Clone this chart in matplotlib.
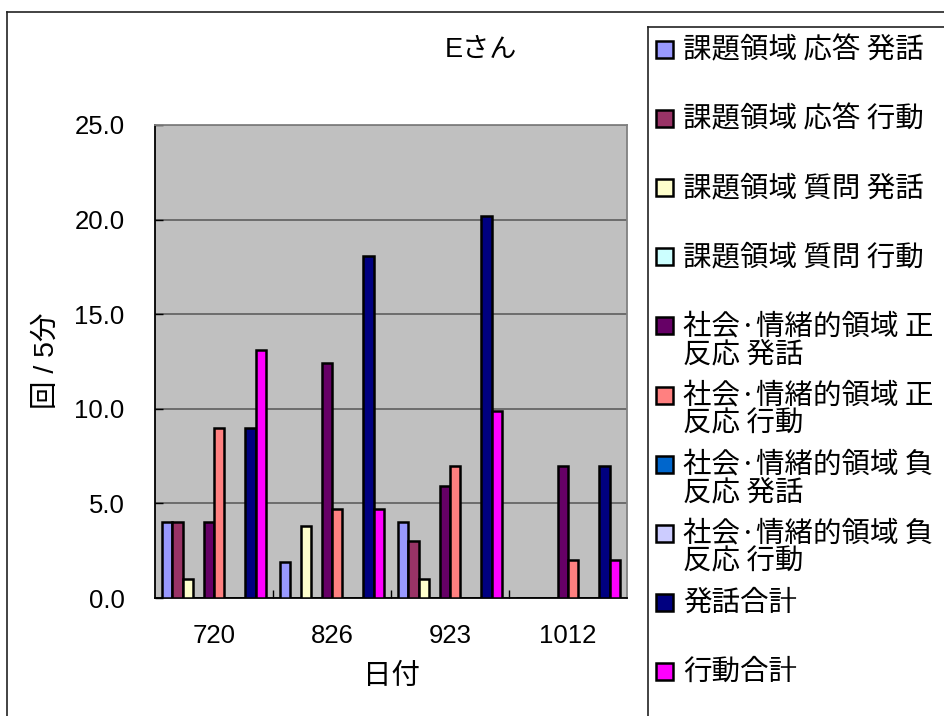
import matplotlib
matplotlib.use("Agg")
import matplotlib.pyplot as plt
from matplotlib.lines import Line2D
from matplotlib.patches import Rectangle
import numpy as np

plt.rcParams['font.family'] = ['Liberation Sans', 'Noto Sans CJK JP', 'DejaVu Sans']

# ---- data ----
dates = ["720", "826", "923", "1012"]
series_labels = [
    "課題領域 応答 発話",
    "課題領域 応答 行動",
    "課題領域 質問 発話",
    "課題領域 質問 行動",
    "社会·情緒的領域 正\n反応 発話",
    "社会·情緒的領域 正\n反応 行動",
    "社会·情緒的領域 負\n反応 発話",
    "社会·情緒的領域 負\n反応 行動",
    "発話合計",
    "行動合計",
]
task_resp_speech = [4.0, 1.9, 4.0, 0.0]
task_resp_action = [4.0, 0.0, 3.0, 0.0]
task_ques_speech = [1.0, 3.8, 1.0, 0.0]
task_ques_action = [0.0, 0.0, 0.0, 0.0]
soc_pos_speech = [4.0, 12.4, 5.9, 7.0]
soc_pos_action = [9.0, 4.7, 7.0, 2.0]
soc_neg_speech = [0.0, 0.0, 0.0, 0.0]
soc_neg_action = [0.0, 0.0, 0.0, 0.0]
speech_total = [9.0, 18.1, 20.2, 7.0]
action_total = [13.1, 4.7, 9.9, 2.0]

series_values = [
    task_resp_speech, task_resp_action, task_ques_speech, task_ques_action,
    soc_pos_speech, soc_pos_action, soc_neg_speech, soc_neg_action,
    speech_total, action_total,
]
colors = ["#9999FF", "#993366", "#FFFFCC", "#CCFFFF", "#660066",
          "#FF8080", "#0066CC", "#CCCCFF", "#000080", "#FF00FF"]
yticks = [0, 5, 10, 15, 20, 25]

# ---- figure ----
W, H = 944, 716
fig = plt.figure(figsize=(W / 100, H / 100), dpi=100)
fig.patch.set_facecolor("white")

def fx(px):
    return px / W

def fy(py):
    return 1 - py / H

ax_l, ax_r, ax_t, ax_b = 155, 627, 125, 598
ax = fig.add_axes([fx(ax_l), fy(ax_b), (ax_r - ax_l) / W, (ax_b - ax_t) / H])
ax.set_facecolor("#C0C0C0")

n = len(series_values)
bw = 0.0883
x = np.arange(len(dates))
for j, (vals, col) in enumerate(zip(series_values, colors)):
    ax.bar(x + (j - (n - 1) / 2) * bw, vals, width=bw, color=col,
           edgecolor="black", linewidth=1.8, zorder=3)

ax.set_xlim(-0.5, len(dates) - 0.5)
ax.set_ylim(0, 25)
ax.set_yticks(yticks)
ax.set_yticklabels([f"{v:.1f}" for v in yticks])
ax.yaxis.grid(True, color="#555555", linewidth=1.1, zorder=1)
ax.set_axisbelow(True)

ax.set_xticks(x)
ax.set_xticklabels(dates)
ax.set_xticks(x[:-1] + 0.5, minor=True)
ax.tick_params(axis="x", which="major", length=0, pad=19, labelsize=18.5)
ax.tick_params(axis="x", which="minor", direction="in", length=6, width=1, color="black")
ax.tick_params(axis="y", which="major", direction="in", length=6, width=1,
               color="black", pad=22, labelsize=18.5)

for side in ("left", "bottom"):
    ax.spines[side].set_color("black")
    ax.spines[side].set_linewidth(1.3)
for side in ("top", "right"):
    ax.spines[side].set_color("#808080")
    ax.spines[side].set_linewidth(1.3)

# axis labels and title
fig.text(fx(391), fy(677), "日付", ha="center", va="center", fontsize=20.5)
fig.text(fx(47), fy(361), "回 / 5分", ha="center", va="center", rotation=90, fontsize=20.5)
fig.text(fx(481), fy(50), "Eさん", ha="center", va="center", fontsize=19.5)

# outer chart frame (top/left edges visible)
fig.add_artist(Line2D([fx(7), 1], [fy(12), fy(12)], color="#222222", lw=1.2))
fig.add_artist(Line2D([fx(7), fx(7)], [fy(12), 0], color="#222222", lw=1.2))

# legend frame
lg_l, lg_t = 648, 27
fig.add_artist(Line2D([fx(lg_l), 1], [fy(lg_t), fy(lg_t)], color="#222222", lw=1.2))
fig.add_artist(Line2D([fx(lg_l), fx(lg_l)], [fy(lg_t), 0], color="#222222", lw=1.2))

# legend entries
first_y, step, line_h = 50, 69.1, 28
for i, (lab, col) in enumerate(zip(series_labels, colors)):
    yc = first_y + i * step
    fig.add_artist(Rectangle((fx(656), fy(yc + 8)), 17 / W, 17 / H,
                             facecolor=col, edgecolor="black", linewidth=1.8,
                             transform=fig.transFigure))
    for k, line in enumerate(lab.split("\n")):
        fig.text(fx(683), fy(yc + k * line_h), line, ha="left", va="center",
                 fontsize=20.5, family=["Noto Sans CJK JP", "DejaVu Sans"])

fig.savefig("out.png", dpi=100)
